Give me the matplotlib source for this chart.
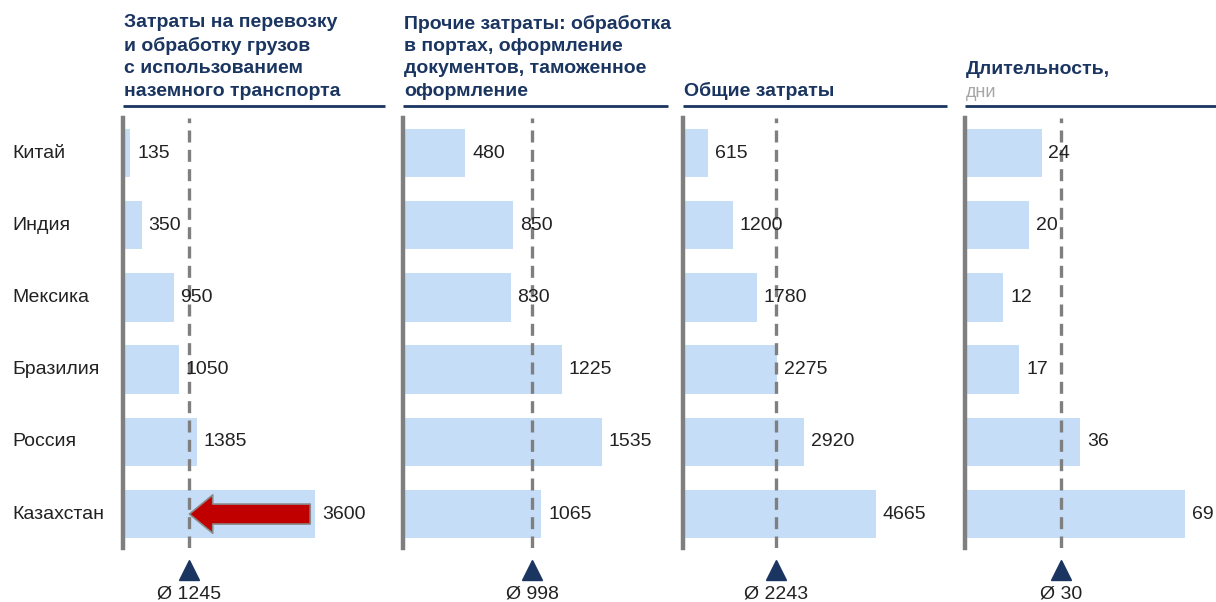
import matplotlib.pyplot as plt
import matplotlib.transforms as mtransforms

plt.rcParams['font.family'] = ['Liberation Sans', 'DejaVu Sans']

countries = ["Китай", "Индия", "Мексика", "Бразилия", "Россия", "Казахстан"]
land_costs = [135, 350, 950, 1050, 1385, 3600]
other_costs = [480, 850, 830, 1225, 1535, 1065]
total_costs = [615, 1200, 1780, 2275, 2920, 4665]
duration = [24, 20, 12, 17, 36, 69]
averages = [1245, 998, 2243, 30]
titles = [
    "Затраты на перевозку\nи обработку грузов\nс использованием\nназемного транспорта",
    "Прочие затраты: обработка\nв портах, оформление\nдокументов, таможенное\nоформление",
    "Общие затраты",
    "Длительность,",
]
subtitle_last = "дни"

navy = "#1b3561"
bar_color = "#c6ddf8"
gray = "#7f7f7f"

W, H = 1216, 602
fig = plt.figure(figsize=(W / 100, H / 100), dpi=100)

# panel geometry in pixels: left, right, xmax of scale
panels = [(123, 385, 4912), (403, 668, 2044), (683, 947, 6381), (965, 1216, 78.7)]
series = [land_costs, other_costs, total_costs, duration]
top_px, bot_px = 118, 548

axes = []
for i, ((l, r, xmax), vals) in enumerate(zip(panels, series)):
    ax = fig.add_axes([l / W, 1 - bot_px / H, (r - l) / W, (bot_px - top_px) / H])
    y = list(range(len(countries)))
    ax.barh(y, vals, height=0.67, color=bar_color, zorder=1)
    ax.set_xlim(0, xmax)
    ax.set_ylim(5.47, -0.485)
    for s in ["top", "right", "bottom"]:
        ax.spines[s].set_visible(False)
    ax.spines["left"].set_color(gray)
    ax.spines["left"].set_linewidth(3.2)
    ax.set_xticks([])
    ax.set_yticks([])
    ax.patch.set_alpha(0)

    avg = averages[i]
    ax.axvline(avg, color=gray, lw=2.4, dashes=(3.6, 2.2), zorder=2)

    for yy, v in zip(y, vals):
        ax.annotate(str(v), xy=(v, yy), xytext=(5, 0), textcoords="offset points",
                    va="center", ha="left", fontsize=14, color="#222222", zorder=4)

    tr = mtransforms.blended_transform_factory(ax.transData, ax.transAxes)
    ax.plot([avg], [-0.05], marker="^", markersize=15, color=navy, transform=tr,
            clip_on=False)
    ax.text(avg, -0.108, "Ø " + str(avg), transform=tr, ha="center", va="center",
            fontsize=14, color="#222222")

    # header with underline
    ax.plot([0, 1], [1.028, 1.028], transform=ax.transAxes, color=navy, lw=2,
            clip_on=False, solid_capstyle="butt")
    if i < 3:
        ax.text(0.005, 1.042, titles[i], transform=ax.transAxes, ha="left", va="bottom",
                fontsize=14, fontweight="bold", color=navy, linespacing=1.42)
    else:
        ax.text(0.005, 1.04, subtitle_last, transform=ax.transAxes, ha="left",
                va="bottom", fontsize=13, color="#a6a6a6")
        ax.text(0.005, 1.092, titles[i], transform=ax.transAxes, ha="left",
                va="bottom", fontsize=14, fontweight="bold", color=navy)
    axes.append(ax)

# country labels
ax1 = axes[0]
trc = mtransforms.blended_transform_factory(fig.transFigure, ax1.transData)
for yy, c in enumerate(countries):
    fig.text(12 / W, yy, c, transform=trc, ha="left", va="center", fontsize=14,
             color="#222222")

# red arrow from Kazakhstan value to the average
ax1.annotate("", xy=(averages[0], 5), xytext=(land_costs[-1] * 0.975, 5),
             arrowprops=dict(arrowstyle="simple,head_length=1.4,head_width=2.3,tail_width=1.2",
                             fc="#c00000", ec="#8a8a8a", lw=1.2, mutation_scale=12,
                             shrinkA=0, shrinkB=0),
             zorder=5)

fig.savefig("out.png", dpi=100)
